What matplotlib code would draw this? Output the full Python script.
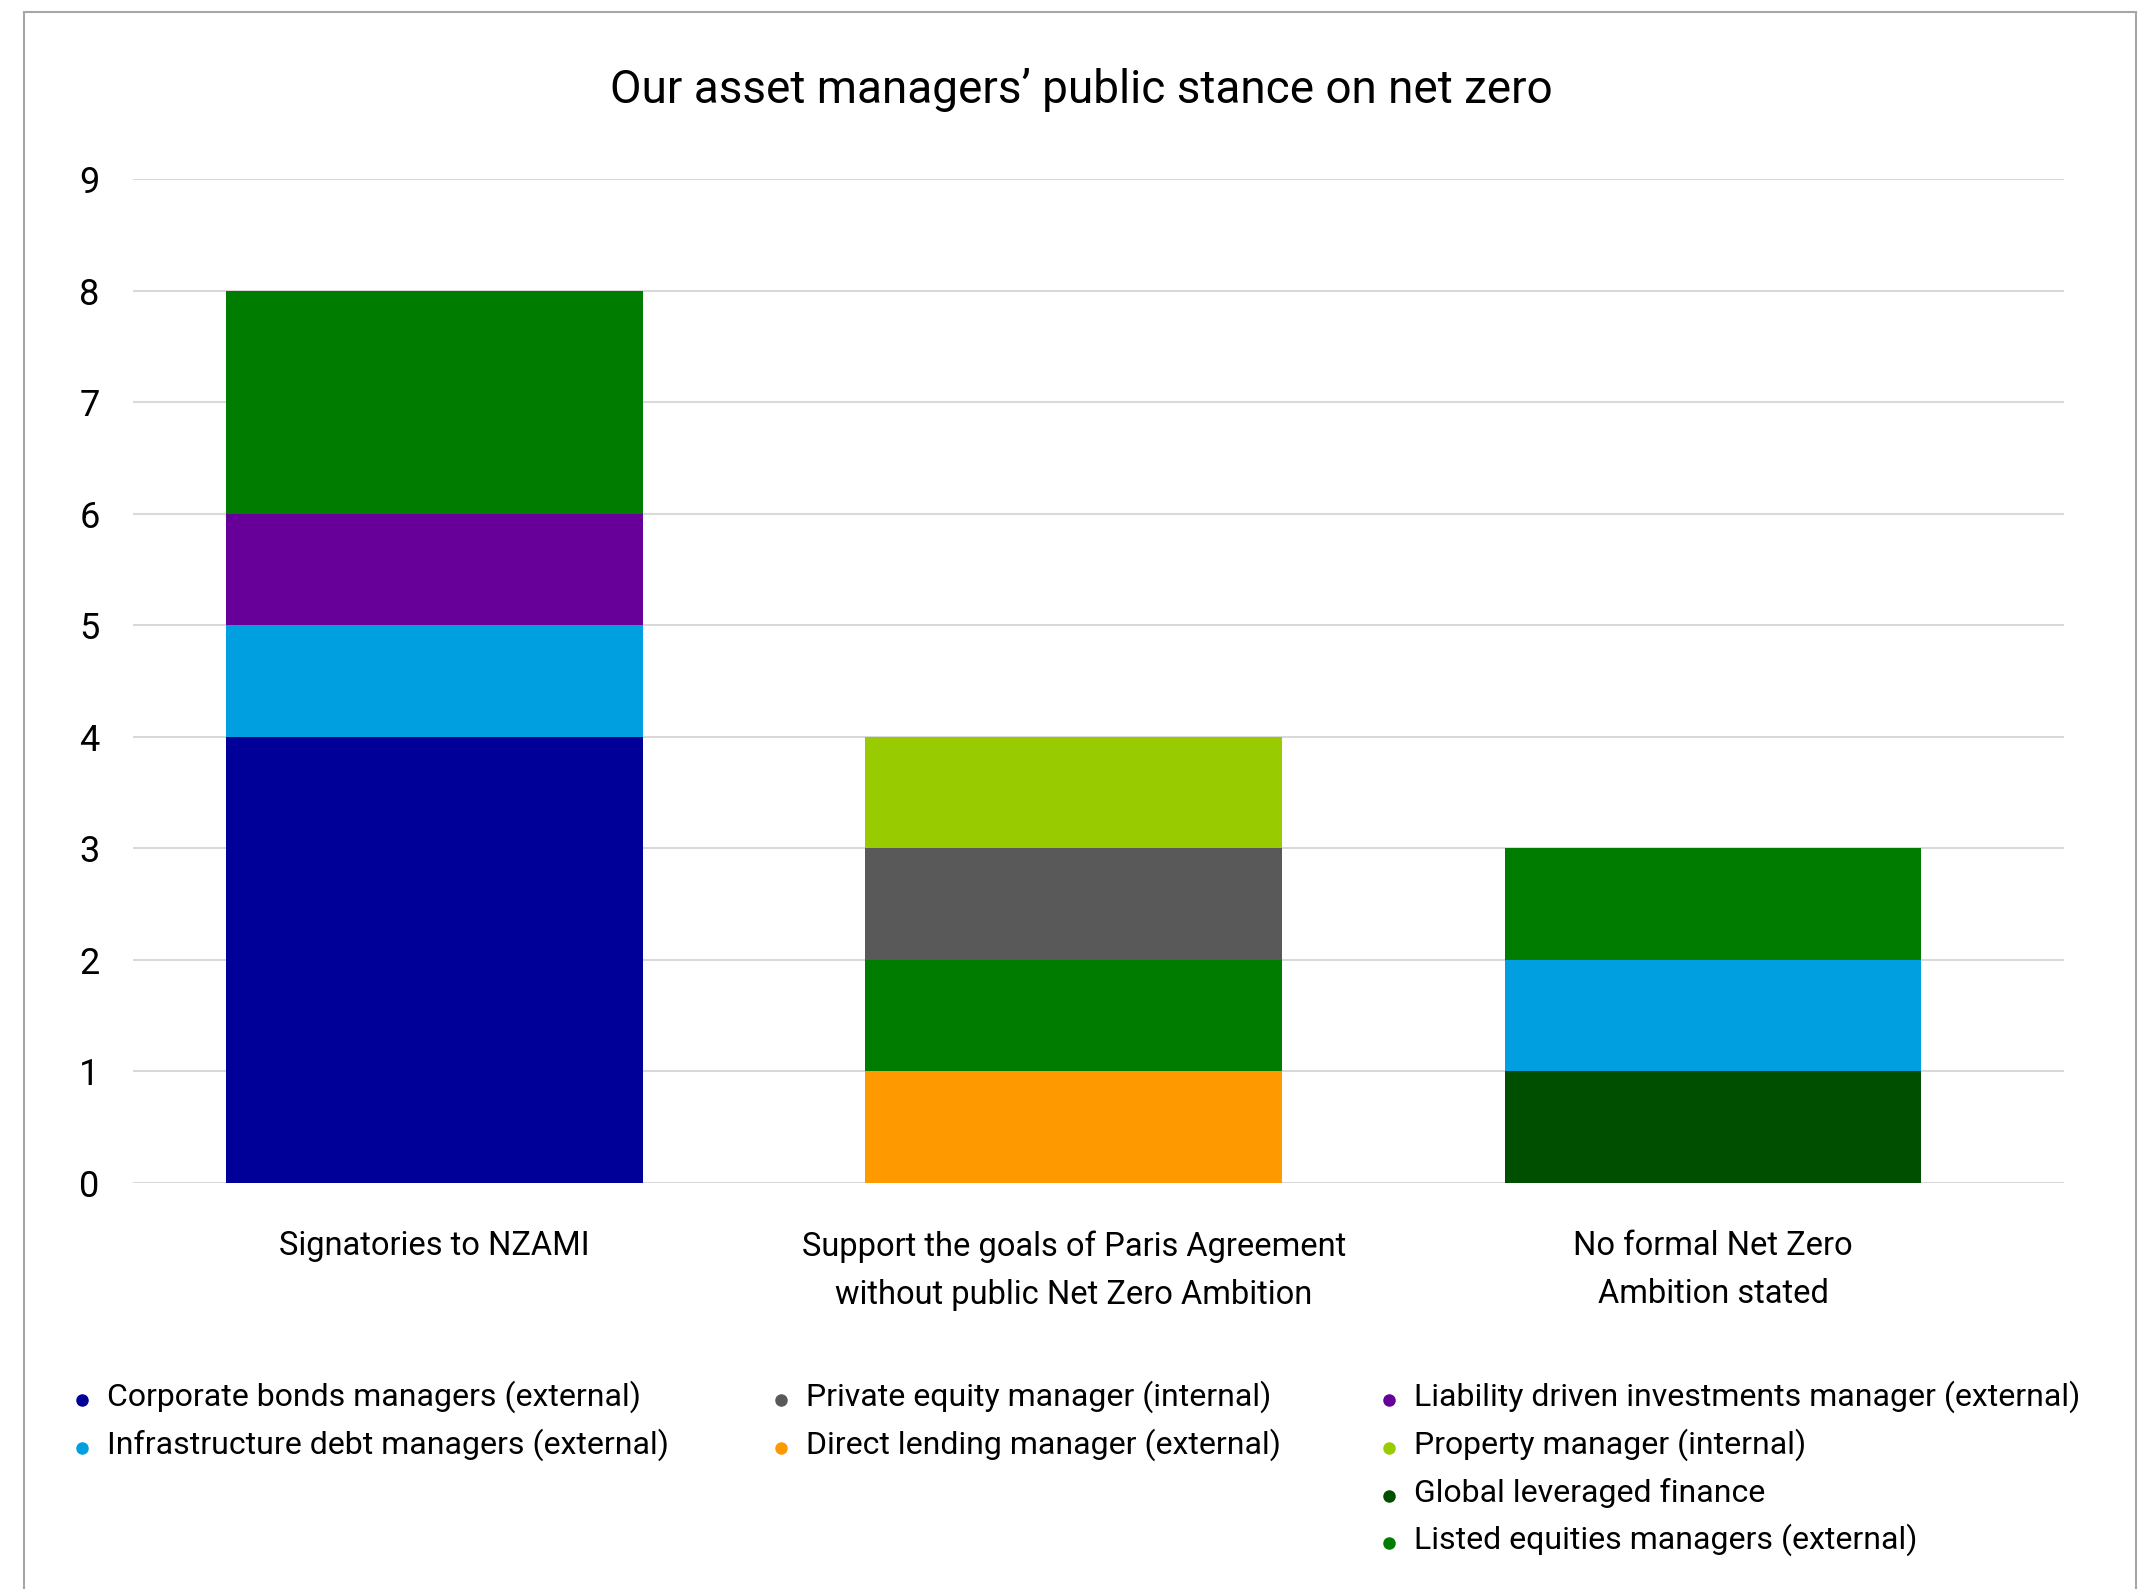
import matplotlib.pyplot as plt
from matplotlib.lines import Line2D
from matplotlib.patches import Rectangle
import numpy as np

plt.rcParams['font.family'] = ['Roboto', 'DejaVu Sans']

# stance categories along the x axis
categories = ["Signatories to NZAMI",
              "Support the goals of Paris Agreement\nwithout public Net Zero Ambition",
              "No formal Net Zero\nAmbition stated"]

# number of managers per category, one list per manager type (stacked bottom to top)
corporate_bonds = [4, 0, 0]
direct_lending = [0, 1, 0]
global_leveraged = [0, 0, 1]
infrastructure_debt = [1, 0, 1]
liability_driven = [1, 0, 0]
listed_equities = [2, 1, 1]
private_equity = [0, 1, 0]
property_mgr = [0, 1, 0]

series = [
    ("Corporate bonds managers (external)", corporate_bonds, "#000099"),
    ("Direct lending manager (external)", direct_lending, "#FF9900"),
    ("Global leveraged finance", global_leveraged, "#004E00"),
    ("Infrastructure debt managers (external)", infrastructure_debt, "#009FDF"),
    ("Liability driven investments manager (external)", liability_driven, "#660099"),
    ("Listed equities managers (external)", listed_equities, "#007C00"),
    ("Private equity manager (internal)", private_equity, "#595959"),
    ("Property manager (internal)", property_mgr, "#99CC00"),
]

# legend layout: three columns
legend_cols = [
    ["Corporate bonds managers (external)", "Infrastructure debt managers (external)"],
    ["Private equity manager (internal)", "Direct lending manager (external)"],
    ["Liability driven investments manager (external)", "Property manager (internal)",
     "Global leveraged finance", "Listed equities managers (external)"],
]

W, H = 2145, 1589
fig = plt.figure(figsize=(W / 100, H / 100), dpi=100)
ax = fig.add_axes([133 / W, 1 - 1183 / H, (2064 - 133) / W, (1183 - 179) / H])

x = np.arange(len(categories))
bottom = np.zeros(len(categories))
colors = {}
for name, vals, col in series:
    vals = np.array(vals, dtype=float)
    ax.bar(x, vals, width=0.652, bottom=bottom, color=col, linewidth=0, zorder=3)
    bottom += vals
    colors[name] = col

ax.set_ylim(0, 9)
ax.set_xlim(-0.4717, 2.549)
ax.set_yticks(range(0, 10))
ax.yaxis.grid(True, color="#D9D9D9", linewidth=1.5, zorder=0)
for s in ax.spines.values():
    s.set_visible(False)
ax.tick_params(axis='y', length=0, pad=24, labelsize=26, labelcolor="#000000")
ax.set_xticks([])

# category labels under the bars
for xi, lab in zip(x, categories):
    ax.annotate(lab, xy=(xi, 0), xycoords='data', xytext=(0, -34),
                textcoords='offset points', ha='center', va='top',
                fontsize=23.5, linespacing=1.64)

fig.text(1081 / W, 1 - 90 / H, "Our asset managers\u2019 public stance on net zero",
         ha='center', va='center', fontsize=33)

# legend drawn as dots and labels in three columns
col_x = [82, 781, 1389]
row_y = [1397, 1445, 1493, 1540]
for cx, names in zip(col_x, legend_cols):
    for ry, name in zip(row_y, names):
        fig.add_artist(Line2D([cx / W], [1 - (ry + 3) / H], marker='o', markersize=8,
                              color=colors[name], linestyle='none',
                              transform=fig.transFigure))
        fig.text((cx + 25) / W, 1 - ry / H, name, ha='left', va='center', fontsize=23)

# outer frame
fig.add_artist(Rectangle((24 / W, -0.05), (2136 - 24) / W, 1.05 - 12 / H,
                         transform=fig.transFigure, fill=False,
                         edgecolor="#A6A6A6", linewidth=1.5))

fig.savefig("out.png", dpi=100)
